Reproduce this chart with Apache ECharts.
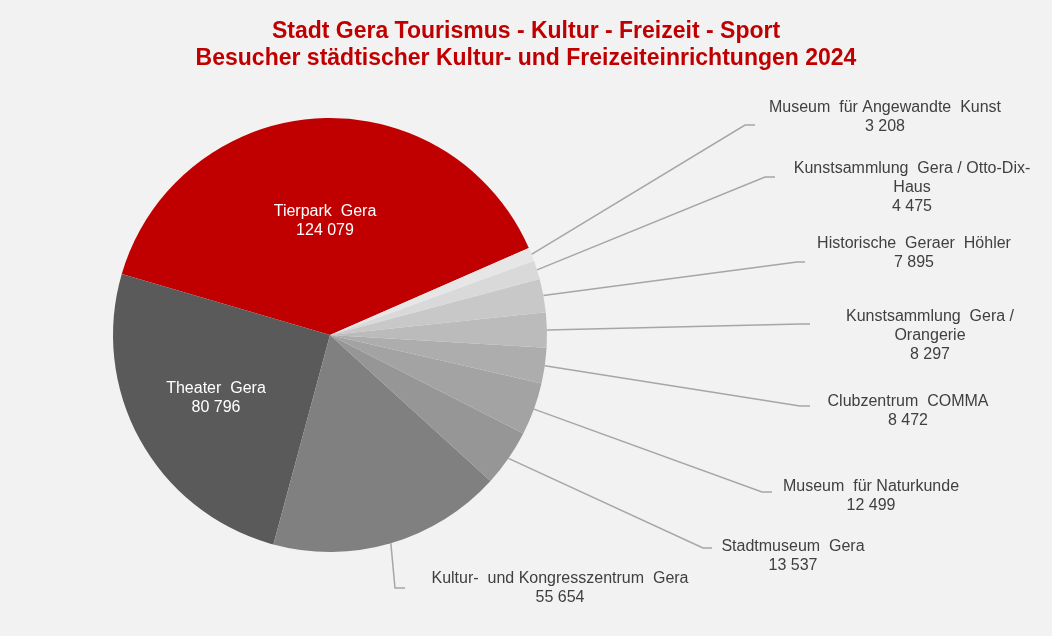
<!DOCTYPE html>
<html><head><meta charset="utf-8">
<script src="https://cdn.jsdelivr.net/npm/echarts@6/dist/echarts.min.js"></script>
<style>html,body{margin:0;padding:0;background:#F2F2F2;} #c{width:1052px;height:636px;}</style>
</head><body><div id="c"></div>
<script>
const categories = ["Tierpark Gera","Theater Gera","Kultur- und Kongresszentrum Gera","Stadtmuseum Gera","Museum für Naturkunde","Clubzentrum COMMA","Kunstsammlung Gera / Orangerie","Historische Geraer Höhler","Kunstsammlung Gera / Otto-Dix-Haus","Museum für Angewandte Kunst"];
const displayLabels = ["Tierpark  Gera","Theater  Gera","Kultur-  und Kongresszentrum  Gera","Stadtmuseum  Gera","Museum  für Naturkunde","Clubzentrum  COMMA","Kunstsammlung  Gera /\nOrangerie","Historische  Geraer  Höhler","Kunstsammlung  Gera / Otto-Dix-\nHaus","Museum  für Angewandte  Kunst"];
const visitors = [124079,80796,55654,13537,12499,8472,8297,7895,4475,3208];
const sliceColors = ['#C00000','#5A5A5A','#808080','#969696','#A3A3A3','#ADADAD','#BBBBBB','#C8C8C8','#D9D9D9','#E6E6E6'];

// label placement (layout/style, not data)
const labelPos = [
  {x:325,y:221},
  {x:216,y:398},
  {x:560,y:588, line:[[395,588],[405,588]]},
  {x:793,y:556, line:[[703,548],[712,548]]},
  {x:871,y:496, line:[[762,492],[772,492]]},
  {x:908,y:411, line:[[800,406],[810,406]]},
  {x:930,y:336, line:[[800,324],[810,324]]},
  {x:914,y:253, line:[[797,262],[805,262]]},
  {x:912,y:188, line:[[765,177],[775,177]]},
  {x:885,y:117, line:[[745,125],[755,125]]}
];

function fmt(v){ return String(v).replace(/\B(?=(\d{3})+(?!\d))/g, ' '); }

const data = categories.map((name, i) => {
  const inside = i < 2;
  return {
    name: name,
    value: visitors[i],
    itemStyle: {color: sliceColors[i]},
    label: inside ? {position:'inside', color:'#FFFFFF'} : {position:'outside', color:'#404040'},
    labelLine: {show: !inside}
  };
});

const chart = echarts.init(document.getElementById('c'), null, {renderer:'canvas'});
chart.setOption({
  backgroundColor: '#F2F2F2',
  animation: false,
  title: {
    text: 'Stadt Gera Tourismus - Kultur - Freizeit - Sport\nBesucher städtischer Kultur- und Freizeiteinrichtungen 2024',
    left: 526,
    top: 18,
    padding: 0,
    textAlign: 'center',
    textStyle: {fontFamily:'Liberation Sans', fontSize:23, fontWeight:'bold', color:'#C00000', lineHeight:27}
  },
  series: [{
    type: 'pie',
    center: [330, 335],
    radius: 217,
    startAngle: 23.6,
    clockwise: false,
    avoidLabelOverlap: false,
    emphasis: {disabled: true},
    itemStyle: {borderWidth: 0},
    label: {
      fontFamily: 'Liberation Sans',
      fontSize: 16,
      lineHeight: 19,
      align: 'center',
      formatter: p => displayLabels[p.dataIndex] + '\n' + fmt(p.value)
    },
    labelLine: {lineStyle: {color:'#A6A6A6', width:1.5}, length: 20, length2: 10},
    labelLayout: function(params){
      const p = labelPos[params.dataIndex];
      const r = {x: p.x, y: p.y, align: 'center', verticalAlign: 'middle'};
      if (p.line && params.labelLinePoints) {
        r.labelLinePoints = [params.labelLinePoints[0], p.line[0], p.line[1]];
      }
      return r;
    },
    data: data
  }]
});
</script>
</body></html>
